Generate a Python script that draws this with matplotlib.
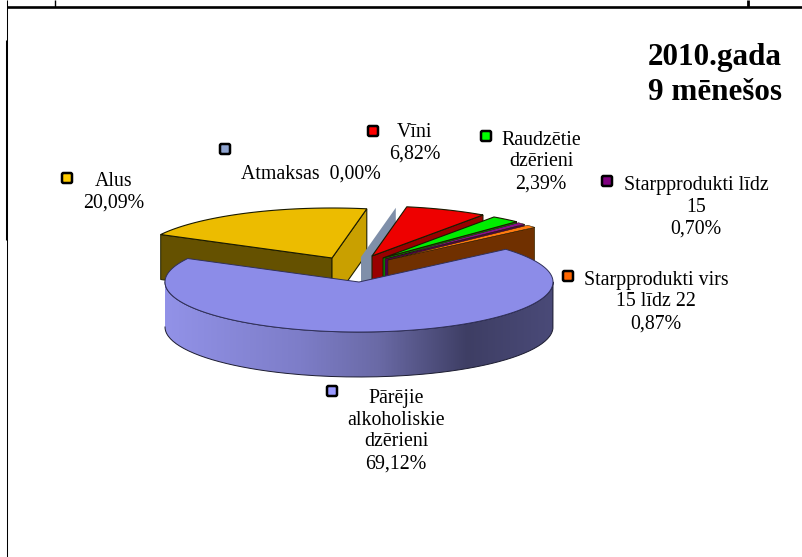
import numpy as np
import matplotlib
matplotlib.use("Agg")
import matplotlib.pyplot as plt
from matplotlib.colors import LinearSegmentedColormap
from matplotlib.patches import FancyBboxPatch, Polygon

plt.rcParams["font.family"] = ["Liberation Serif", "DejaVu Serif"]

W, H = 803, 557

labels = [
    "Alus\n20,09%",
    "Atmaksas  0,00%",
    "Vīni\n6,82%",
    "Raudzētie\ndzērieni\n2,39%",
    "Starpprodukti līdz\n15\n0,70%",
    "Starpprodukti virs\n15 līdz 22\n0,87%",
    "Pārējie\nalkoholiskie\ndzērieni\n69,12%",
]
values = [20.09, 0.00, 6.82, 2.39, 0.70, 0.87, 69.12]

top_colors = ["#ecbc00", "#7f8fa9", "#ee0000", "#00ee00", "#8a0f8a", "#ff7a10", "#8c8ce8"]
edge_colors = ["#655100", "#7f8fa9", "#990000", "#009900", "#4d004d", "#703000", "#8c8ce8"]
face_colors = ["#c9a000", "#7f8fa9", "#990000", "#009900", "#4d004d", "#703000", "#8c8ce8"]
marker_colors = ["#ffcc00", "#8ea3cf", "#ff0000", "#00ff00", "#800080", "#ff6600", "#9999ff"]

# centre of each slice top, in image pixels (exploded slices sit apart)
centers = [(332, 258), (361, 257), (372, 256), (383, 258), (385, 259), (388, 260), (359, 282)]
marker_pos = [(67, 178), (225, 149), (373, 131), (486, 136), (607, 181), (568, 276), (332, 391)]
text_pos = [(114, 192), (311, 174), (415, 143), (541, 162), (696, 207), (656, 302), (396, 431)]

START = 152
RX, RY, DEPTH = 194, 50, 45


def rim(cx, cy, a0, a1, n=120):
    t = np.radians(np.linspace(a0, a1, n))
    return np.column_stack([cx + RX * np.cos(t), cy - RY * np.sin(t)])


def down(pts):
    return pts + np.array([0, DEPTH])


fig = plt.figure(figsize=(W / 100, H / 100), dpi=100)
ax = fig.add_axes([0, 0, 1, 1])
ax.set_xlim(0, W)
ax.set_ylim(H, 0)
ax.axis("off")

# page table lines around the chart
ax.plot([7, W], [7, 7], color="black", lw=1.9, solid_capstyle="butt")
ax.plot([748, 748], [0, 7], color="black", lw=2.0, solid_capstyle="butt")
ax.plot([55, 55], [0, 7], color="black", lw=1.0, solid_capstyle="butt")
ax.plot([7.5, 7.5], [0, H], color="black", lw=0.75, solid_capstyle="butt")
ax.plot([6.5, 6.5], [40, 240], color="black", lw=0.75, solid_capstyle="butt")

angles = START - np.cumsum([0] + values) * 360 / sum(values)

for i in range(len(values) - 1):
    cx, cy = centers[i]
    a0, a1 = angles[i], angles[i + 1]
    c = np.array([cx, cy])
    p0 = rim(cx, cy, a0, a0, 1)[0]
    p1 = rim(cx, cy, a1, a1, 1)[0]
    line = 0.8 if values[i] > 1 else 0.35
    # back radial face only shows on the slice that faces left
    if i == 0:
        ax.add_patch(Polygon([c, p0, p0 + [0, DEPTH], c + [0, DEPTH]], fc=edge_colors[i],
                             ec="#222200", lw=0.7))
    ax.add_patch(Polygon([c, p1, p1 + [0, DEPTH], c + [0, DEPTH]], fc=face_colors[i],
                         ec="#222200" if values[i] > 0 else "none", lw=line))
    top = np.vstack([c, rim(cx, cy, a0, a1)])
    if values[i] > 0:
        ax.add_patch(Polygon(top, fc=top_colors[i], ec="#1a1a00", lw=line))

# biggest slice, in front of the others
cx, cy = centers[-1]
a0, a1 = angles[-2], angles[-1]
front = rim(cx, cy, 180, 360)
side = np.vstack([front, down(front)[::-1]])
gradient = LinearSegmentedColormap.from_list(
    "rim", [(0, "#9292e8"), (0.35, "#7d7dc8"), (0.55, "#6a6aa6"), (0.78, "#3e3e64"), (1, "#4a4a78")])
patch = Polygon(side, fc="none", ec="none")
ax.add_patch(patch)
im = ax.imshow(np.linspace(0, 1, 256)[None, :], cmap=gradient, aspect="auto",
               extent=[cx - RX, cx + RX, H, 0], zorder=1)
im.set_clip_path(patch)
ax.set_xlim(0, W)
ax.set_ylim(H, 0)
ax.plot(side[:, 0], side[:, 1], color="#1c1c30", lw=0.7, zorder=2)
surface = np.vstack([[cx, cy], rim(cx, cy, a0, a1, 300)])
ax.add_patch(Polygon(surface, fc=top_colors[-1], ec="#30305a", lw=0.7, zorder=3))

for i, label in enumerate(labels):
    mx, my = marker_pos[i]
    ax.add_patch(FancyBboxPatch((mx - 5, my - 5), 10, 10, boxstyle="round,pad=0,rounding_size=1.5",
                                fc=marker_colors[i], ec="black", lw=1.8, zorder=4))
    tx, ty = text_pos[i]
    ax.text(tx, ty, label, ha="center", va="center", fontsize=14.3, color="black",
            linespacing=1.2, zorder=5)

ax.text(782, 75, "2010.gada\n9 mēnešos", ha="right", va="center", fontsize=22.4,
        fontweight="bold", linespacing=1.24, zorder=5)

fig.savefig("out.png", dpi=100)
